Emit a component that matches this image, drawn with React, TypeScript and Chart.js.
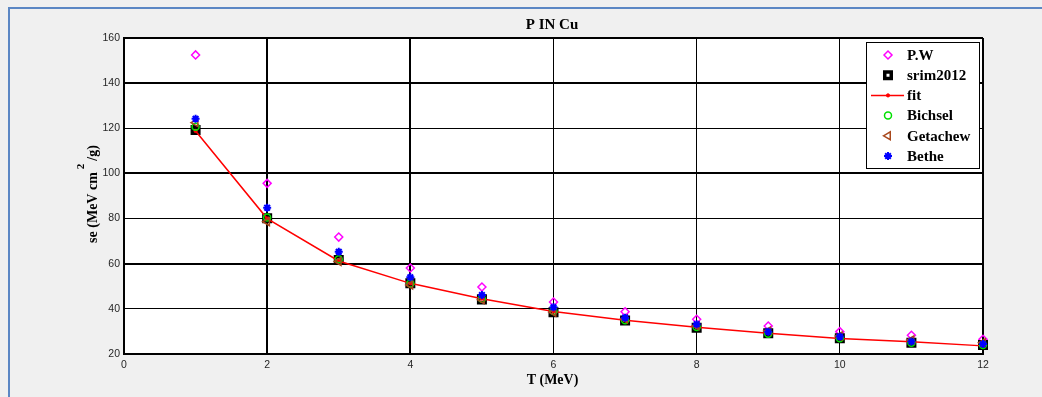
import React, { useEffect, useRef } from "react";
import { Chart, registerables } from "chart.js";
import { drawPoint } from "chart.js/helpers";

Chart.register(...registerables);

// ---- data ----
const energies = [1, 2, 3, 4, 5, 6, 7, 8, 9, 10, 11, 12];
const pwValues = [152.5, 95.6, 71.8, 58.1, 49.7, 43.0, 38.7, 35.4, 32.4, 29.9, 28.3, 26.5];
const srimValues = [119.2, 80.1, 61.6, 51.3, 44.2, 38.5, 34.8, 31.6, 29.2, 27.0, 25.0, 24.0];
const fitValues = [118.8, 80.0, 61.2, 51.3, 44.5, 38.8, 35.0, 31.8, 29.2, 26.9, 25.4, 23.6];
const bichselValues = [120.7, 80.5, 62.0, 51.2, 44.5, 39.0, 35.0, 32.0, 29.0, 27.0, 25.0, 24.0];
const getachewValues = [122.5, 78.6, 61.0, 50.6, 44.0, 38.5, 35.5, 32.5, 30.2, 28.0, 26.2, 25.0];
const betheValues = [124.2, 84.8, 65.3, 54.0, 46.1, 40.7, 36.1, 33.2, 29.9, 27.7, 25.5, 24.4];
const xTicks = [0, 2, 4, 6, 8, 10, 12];
const yTicks = [20, 40, 60, 80, 100, 120, 140, 160];
const chartTitle = "P IN Cu";
const xTitle = "T (MeV)";

const SERIF = "'Liberation Serif', 'Times New Roman', serif";
const SANS = "'Liberation Sans', Arial, sans-serif";

const framePlugin = {
  id: "frame",
  beforeDraw(chart: any) {
    const { ctx, chartArea: a } = chart;
    ctx.save();
    ctx.fillStyle = "#f0f0f0";
    ctx.fillRect(0, 0, chart.width, chart.height);
    ctx.fillStyle = "#5b87c4";
    ctx.fillRect(8, 7, chart.width - 8, 2);
    ctx.fillRect(8, 7, 2, chart.height - 7);
    ctx.fillStyle = "#ffffff";
    ctx.fillRect(a.left, a.top, a.right - a.left, a.bottom - a.top);
    ctx.restore();
  },
  afterDraw(chart: any) {
    const { ctx, chartArea: a } = chart;
    ctx.save();
    ctx.fillStyle = "#000";
    ctx.textAlign = "center";
    ctx.textBaseline = "alphabetic";
    ctx.font = `bold 15px ${SERIF}`;
    ctx.fillText(chartTitle, 552, 29);
    ctx.font = `bold 14px ${SERIF}`;
    ctx.fillText(xTitle, (a.left + a.right) / 2 - 1, 384);

    // y title with superscript
    ctx.save();
    ctx.translate(97, (a.top + a.bottom) / 2 - 2);
    ctx.rotate(-Math.PI / 2);
    ctx.textAlign = "left";
    const p1 = "se (MeV cm";
    const p2 = "2";
    const p3 = "/g)";
    ctx.font = `bold 14px ${SERIF}`;
    const w1 = ctx.measureText(p1).width;
    const w3 = ctx.measureText(p3).width;
    ctx.font = `bold 11px ${SERIF}`;
    const w2 = ctx.measureText(p2).width;
    const gapA = 3, gapB = 3;
    const total = w1 + gapA + w2 + gapB + w3;
    let x = -total / 2;
    ctx.font = `bold 14px ${SERIF}`;
    ctx.fillText(p1, x, 0);
    x += w1 + gapA;
    ctx.font = `bold 11px ${SERIF}`;
    ctx.fillText(p2, x, -13);
    x += w2 + gapB;
    ctx.font = `bold 14px ${SERIF}`;
    ctx.fillText(p3, x, 0);
    ctx.restore();

    // legend
    const bx = 866, by = 42, bw = 113, bh = 126;
    ctx.fillStyle = "#fff";
    ctx.fillRect(bx, by, bw, bh);
    ctx.strokeStyle = "#000";
    ctx.lineWidth = 1;
    ctx.strokeRect(bx + 0.5, by + 0.5, bw, bh);
    const ds = chart.data.datasets;
    ds.forEach((d: any, i: number) => {
      const cy = 55 + i * 20.2;
      const mx = 888;
      if (d.showLine) {
        ctx.strokeStyle = d.borderColor;
        ctx.lineWidth = d.borderWidth;
        ctx.beginPath();
        ctx.moveTo(871, cy);
        ctx.lineTo(904, cy);
        ctx.stroke();
      }
      ctx.strokeStyle = d.pointBorderColor;
      ctx.fillStyle = d.pointBackgroundColor;
      ctx.lineWidth = d.pointBorderWidth;
      drawPoint(ctx, {
        pointStyle: d.pointStyle,
        rotation: d.pointRotation || 0,
        radius: d.pointRadius,
        borderWidth: d.pointBorderWidth,
      } as any, mx, cy);
      ctx.fillStyle = "#000";
      ctx.font = `bold 15px ${SERIF}`;
      ctx.textAlign = "left";
      ctx.textBaseline = "middle";
      ctx.fillText(d.label, 907, cy + 1);
    });
    ctx.restore();
  },
};

function series(values: number[]) {
  return energies.map((x, i) => ({ x, y: values[i] }));
}

export default function App() {
  const ref = useRef<HTMLCanvasElement>(null);
  useEffect(() => {
    const canvas = ref.current!;
    const base = { showLine: false, clip: false as any };
    const chart = new Chart(canvas, {
      type: "scatter",
      data: {
        datasets: [
          {
            ...base, label: "P.W", data: series(pwValues), order: 5,
            pointStyle: "rectRot", pointRadius: 4, pointBorderWidth: 1.5,
            pointBorderColor: "#ff00ff", pointBackgroundColor: "rgba(0,0,0,0)",
            borderColor: "#ff00ff", backgroundColor: "rgba(0,0,0,0)",
          },
          {
            ...base, label: "srim2012", data: series(srimValues), order: 4,
            pointStyle: "rect", pointRadius: 4.6, pointBorderWidth: 3.5,
            pointBorderColor: "#000000", pointBackgroundColor: "rgba(0,0,0,0)",
            borderColor: "#000000", backgroundColor: "rgba(0,0,0,0)",
          },
          {
            ...base, label: "fit", data: series(fitValues), order: 3, showLine: true,
            borderColor: "#ff0000", borderWidth: 1.5, backgroundColor: "#ff0000",
            pointStyle: "circle", pointRadius: 1.6, pointBorderWidth: 1,
            pointBorderColor: "#ff0000", pointBackgroundColor: "#ff0000", tension: 0,
          },
          {
            ...base, label: "Bichsel", data: series(bichselValues), order: 2,
            pointStyle: "circle", pointRadius: 3.5, pointBorderWidth: 1.5,
            pointBorderColor: "#00e000", pointBackgroundColor: "rgba(0,0,0,0)",
            borderColor: "#00e000", backgroundColor: "rgba(0,0,0,0)",
          },
          {
            ...base, label: "Getachew", data: series(getachewValues), order: 1,
            pointStyle: "triangle", pointRotation: -90, pointRadius: 4.5, pointBorderWidth: 1.5,
            pointBorderColor: "#a8481c", pointBackgroundColor: "rgba(0,0,0,0)",
            borderColor: "#a8481c", backgroundColor: "rgba(0,0,0,0)",
          },
          {
            ...base, label: "Bethe", data: series(betheValues), order: 0,
            pointStyle: "star", pointRadius: 4, pointBorderWidth: 2,
            pointBorderColor: "#0000ff", pointBackgroundColor: "#0000ff",
            borderColor: "#0000ff", backgroundColor: "#0000ff",
          },
        ] as any,
      },
      options: {
        responsive: false,
        animation: false,
        devicePixelRatio: 1,
        events: [],
        layout: { padding: { left: 0, top: 38, right: 59, bottom: 0 } },
        plugins: {
          legend: { display: false },
          tooltip: { enabled: false },
          title: { display: false },
        },
        scales: {
          x: {
            type: "linear",
            min: 0,
            max: 12,
            afterBuildTicks: (s: any) => { s.ticks = xTicks.map((v) => ({ value: v })); },
            afterFit: (s: any) => { s.height = 43; },
            grid: {
              color: "#000",
              lineWidth: (c: any) => ([0, 2, 4, 12].includes(c.tick?.value) ? 2 : 1),
              drawTicks: false,
            },
            border: { display: true, color: "#000", width: 2 },
            ticks: {
              padding: 5, color: "#262626", autoSkip: false, maxRotation: 0,
              font: { family: SANS, size: 10.5 },
            },
          },
          y: {
            type: "linear",
            min: 20,
            max: 160,
            afterBuildTicks: (s: any) => { s.ticks = yTicks.map((v) => ({ value: v })); },
            afterFit: (s: any) => { s.width = 124; },
            grid: {
              color: "#000",
              lineWidth: (c: any) => ([20, 60, 100, 140, 160].includes(c.tick?.value) ? 2 : 1),
              drawTicks: false,
            },
            border: { display: true, color: "#000", width: 2 },
            ticks: {
              padding: 4, color: "#262626", autoSkip: false,
              font: { family: SANS, size: 10.5 },
            },
          },
        },
      } as any,
      plugins: [framePlugin],
    });
    return () => chart.destroy();
  }, []);
  return (
    <div style={{ position: "absolute", left: 0, top: 0, width: 1042, height: 397 }}>
      <canvas ref={ref} width={1042} height={397} style={{ display: "block", width: 1042, height: 397 }} />
    </div>
  );
}
